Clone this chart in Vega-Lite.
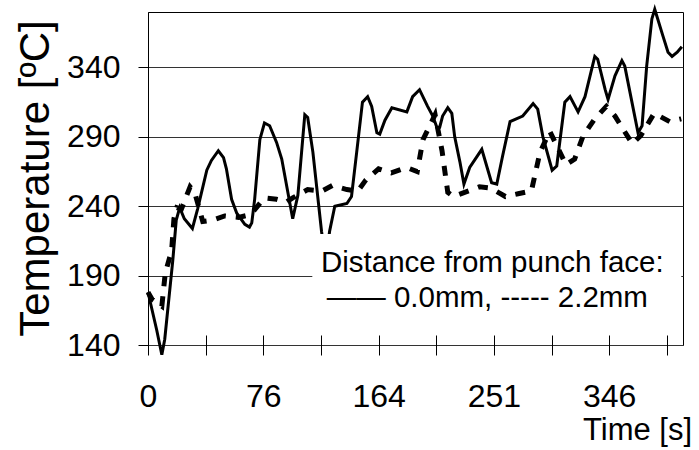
{
  "$schema": "https://vega.github.io/schema/vega-lite/v6.json",
  "width": 535,
  "height": 333,
  "autosize": {"type": "none"},
  "padding": {"left": 148, "top": 12, "right": 16, "bottom": 105},
  "background": "#ffffff",
  "config": {
    "view": {"stroke": "#000000", "strokeWidth": 1},
    "font": "Liberation Sans"
  },
  "datasets": {
    "temps": [
      {"t": 0.00, "temp": 178, "s": "0.0mm"},
      {"t": 0.15, "temp": 151, "s": "0.0mm"},
      {"t": 0.24, "temp": 133, "s": "0.0mm"},
      {"t": 0.29, "temp": 144, "s": "0.0mm"},
      {"t": 0.43, "temp": 201, "s": "0.0mm"},
      {"t": 0.49, "temp": 230, "s": "0.0mm"},
      {"t": 0.55, "temp": 239, "s": "0.0mm"},
      {"t": 0.63, "temp": 231, "s": "0.0mm"},
      {"t": 0.77, "temp": 224, "s": "0.0mm"},
      {"t": 0.86, "temp": 238, "s": "0.0mm"},
      {"t": 1.02, "temp": 266, "s": "0.0mm"},
      {"t": 1.10, "temp": 273, "s": "0.0mm"},
      {"t": 1.22, "temp": 280, "s": "0.0mm"},
      {"t": 1.31, "temp": 275, "s": "0.0mm"},
      {"t": 1.36, "temp": 267, "s": "0.0mm"},
      {"t": 1.45, "temp": 245, "s": "0.0mm"},
      {"t": 1.54, "temp": 235, "s": "0.0mm"},
      {"t": 1.68, "temp": 227, "s": "0.0mm"},
      {"t": 1.76, "temp": 225, "s": "0.0mm"},
      {"t": 1.80, "temp": 228, "s": "0.0mm"},
      {"t": 1.85, "temp": 245, "s": "0.0mm"},
      {"t": 1.94, "temp": 288, "s": "0.0mm"},
      {"t": 2.02, "temp": 300, "s": "0.0mm"},
      {"t": 2.11, "temp": 298, "s": "0.0mm"},
      {"t": 2.23, "temp": 286, "s": "0.0mm"},
      {"t": 2.32, "temp": 274, "s": "0.0mm"},
      {"t": 2.51, "temp": 231, "s": "0.0mm"},
      {"t": 2.60, "temp": 248, "s": "0.0mm"},
      {"t": 2.72, "temp": 306, "s": "0.0mm"},
      {"t": 2.77, "temp": 304, "s": "0.0mm"},
      {"t": 2.86, "temp": 279, "s": "0.0mm"},
      {"t": 3.01, "temp": 222, "s": "0.0mm"},
      {"t": 3.08, "temp": 200, "s": "0.0mm"},
      {"t": 3.15, "temp": 222, "s": "0.0mm"},
      {"t": 3.24, "temp": 240, "s": "0.0mm"},
      {"t": 3.45, "temp": 242, "s": "0.0mm"},
      {"t": 3.53, "temp": 247, "s": "0.0mm"},
      {"t": 3.62, "temp": 279, "s": "0.0mm"},
      {"t": 3.72, "temp": 315, "s": "0.0mm"},
      {"t": 3.81, "temp": 319, "s": "0.0mm"},
      {"t": 3.88, "temp": 312, "s": "0.0mm"},
      {"t": 3.97, "temp": 293, "s": "0.0mm"},
      {"t": 4.02, "temp": 292, "s": "0.0mm"},
      {"t": 4.11, "temp": 302, "s": "0.0mm"},
      {"t": 4.23, "temp": 311, "s": "0.0mm"},
      {"t": 4.49, "temp": 308, "s": "0.0mm"},
      {"t": 4.59, "temp": 319, "s": "0.0mm"},
      {"t": 4.71, "temp": 324, "s": "0.0mm"},
      {"t": 4.85, "temp": 312, "s": "0.0mm"},
      {"t": 4.94, "temp": 305, "s": "0.0mm"},
      {"t": 5.01, "temp": 297, "s": "0.0mm"},
      {"t": 5.06, "temp": 297, "s": "0.0mm"},
      {"t": 5.11, "temp": 305, "s": "0.0mm"},
      {"t": 5.20, "temp": 311, "s": "0.0mm"},
      {"t": 5.27, "temp": 307, "s": "0.0mm"},
      {"t": 5.32, "temp": 290, "s": "0.0mm"},
      {"t": 5.41, "temp": 272, "s": "0.0mm"},
      {"t": 5.48, "temp": 256, "s": "0.0mm"},
      {"t": 5.58, "temp": 268, "s": "0.0mm"},
      {"t": 5.79, "temp": 281, "s": "0.0mm"},
      {"t": 5.96, "temp": 257, "s": "0.0mm"},
      {"t": 6.05, "temp": 256, "s": "0.0mm"},
      {"t": 6.15, "temp": 276, "s": "0.0mm"},
      {"t": 6.28, "temp": 301, "s": "0.0mm"},
      {"t": 6.50, "temp": 305, "s": "0.0mm"},
      {"t": 6.68, "temp": 314, "s": "0.0mm"},
      {"t": 6.76, "temp": 310, "s": "0.0mm"},
      {"t": 6.85, "temp": 290, "s": "0.0mm"},
      {"t": 7.01, "temp": 266, "s": "0.0mm"},
      {"t": 7.09, "temp": 269, "s": "0.0mm"},
      {"t": 7.23, "temp": 315, "s": "0.0mm"},
      {"t": 7.32, "temp": 319, "s": "0.0mm"},
      {"t": 7.46, "temp": 308, "s": "0.0mm"},
      {"t": 7.58, "temp": 319, "s": "0.0mm"},
      {"t": 7.75, "temp": 348, "s": "0.0mm"},
      {"t": 7.80, "temp": 346, "s": "0.0mm"},
      {"t": 7.93, "temp": 324, "s": "0.0mm"},
      {"t": 7.98, "temp": 317, "s": "0.0mm"},
      {"t": 8.10, "temp": 334, "s": "0.0mm"},
      {"t": 8.22, "temp": 345, "s": "0.0mm"},
      {"t": 8.27, "temp": 341, "s": "0.0mm"},
      {"t": 8.50, "temp": 293, "s": "0.0mm"},
      {"t": 8.57, "temp": 298, "s": "0.0mm"},
      {"t": 8.65, "temp": 341, "s": "0.0mm"},
      {"t": 8.74, "temp": 375, "s": "0.0mm"},
      {"t": 8.79, "temp": 382, "s": "0.0mm"},
      {"t": 8.93, "temp": 363, "s": "0.0mm"},
      {"t": 9.02, "temp": 351, "s": "0.0mm"},
      {"t": 9.09, "temp": 348, "s": "0.0mm"},
      {"t": 9.18, "temp": 351, "s": "0.0mm"},
      {"t": 9.26, "temp": 355, "s": "0.0mm"},
      {"t": 0.00, "temp": 178, "s": "2.2mm"},
      {"t": 0.07, "temp": 173, "s": "2.2mm"},
      {"t": 0.24, "temp": 168, "s": "2.2mm"},
      {"t": 0.30, "temp": 192, "s": "2.2mm"},
      {"t": 0.41, "temp": 208, "s": "2.2mm"},
      {"t": 0.45, "temp": 231, "s": "2.2mm"},
      {"t": 0.50, "temp": 239, "s": "2.2mm"},
      {"t": 0.58, "temp": 238, "s": "2.2mm"},
      {"t": 0.73, "temp": 254, "s": "2.2mm"},
      {"t": 0.81, "temp": 250, "s": "2.2mm"},
      {"t": 0.95, "temp": 229, "s": "2.2mm"},
      {"t": 1.12, "temp": 230, "s": "2.2mm"},
      {"t": 1.33, "temp": 233, "s": "2.2mm"},
      {"t": 1.57, "temp": 232, "s": "2.2mm"},
      {"t": 1.78, "temp": 234, "s": "2.2mm"},
      {"t": 2.02, "temp": 246, "s": "2.2mm"},
      {"t": 2.23, "temp": 245, "s": "2.2mm"},
      {"t": 2.40, "temp": 243, "s": "2.2mm"},
      {"t": 2.51, "temp": 246, "s": "2.2mm"},
      {"t": 2.77, "temp": 252, "s": "2.2mm"},
      {"t": 3.02, "temp": 251, "s": "2.2mm"},
      {"t": 3.20, "temp": 255, "s": "2.2mm"},
      {"t": 3.45, "temp": 252, "s": "2.2mm"},
      {"t": 3.64, "temp": 251, "s": "2.2mm"},
      {"t": 3.78, "temp": 259, "s": "2.2mm"},
      {"t": 4.00, "temp": 267, "s": "2.2mm"},
      {"t": 4.22, "temp": 264, "s": "2.2mm"},
      {"t": 4.48, "temp": 268, "s": "2.2mm"},
      {"t": 4.67, "temp": 265, "s": "2.2mm"},
      {"t": 4.77, "temp": 288, "s": "2.2mm"},
      {"t": 4.98, "temp": 306, "s": "2.2mm"},
      {"t": 5.10, "temp": 280, "s": "2.2mm"},
      {"t": 5.20, "temp": 250, "s": "2.2mm"},
      {"t": 5.30, "temp": 247, "s": "2.2mm"},
      {"t": 5.75, "temp": 254, "s": "2.2mm"},
      {"t": 5.95, "temp": 253, "s": "2.2mm"},
      {"t": 6.20, "temp": 247, "s": "2.2mm"},
      {"t": 6.42, "temp": 249, "s": "2.2mm"},
      {"t": 6.65, "temp": 251, "s": "2.2mm"},
      {"t": 6.80, "temp": 279, "s": "2.2mm"},
      {"t": 6.97, "temp": 294, "s": "2.2mm"},
      {"t": 7.25, "temp": 270, "s": "2.2mm"},
      {"t": 7.40, "temp": 274, "s": "2.2mm"},
      {"t": 7.55, "temp": 291, "s": "2.2mm"},
      {"t": 7.75, "temp": 303, "s": "2.2mm"},
      {"t": 7.95, "temp": 312, "s": "2.2mm"},
      {"t": 8.10, "temp": 305, "s": "2.2mm"},
      {"t": 8.40, "temp": 285, "s": "2.2mm"},
      {"t": 8.55, "temp": 291, "s": "2.2mm"},
      {"t": 8.78, "temp": 307, "s": "2.2mm"},
      {"t": 9.05, "temp": 301, "s": "2.2mm"},
      {"t": 9.25, "temp": 303, "s": "2.2mm"}
    ]
  },
  "layer": [
    {
      "data": {"name": "temps"},
      "transform": [{"filter": "datum.s == '0.0mm'"}],
      "mark": {"type": "line", "color": "#000000", "strokeWidth": 3, "clip": false},
      "encoding": {
        "x": {
          "field": "t",
          "type": "quantitative",
          "scale": {"domain": [0, 9.28], "nice": false, "zero": false},
          "axis": {
            "values": [0, 1, 2, 3, 4, 5, 6, 7, 8, 9],
            "labelExpr": "datum.value == 0 ? '0' : datum.value == 2 ? '76' : datum.value == 4 ? '164' : datum.value == 6 ? '251' : datum.value == 8 ? '346' : ''",
            "labelOverlap": false,
            "labelFlush": false,
            "labelFont": "Liberation Sans",
            "labelFontSize": 32,
            "labelColor": "#000000",
            "labelPadding": 26,
            "domain": false,
            "offset": -10,
            "tickSize": 20,
            "tickColor": "#000000",
            "tickWidth": 1,
            "grid": false,
            "zindex": 1,
            "title": "Time [s]",
            "titleFont": "Liberation Sans",
            "titleFontSize": 31,
            "titleFontWeight": "normal",
            "titleColor": "#000000",
            "titleX": 489,
            "titleY": 95,
            "titleAlign": "center",
            "titleBaseline": "middle"
          }
        },
        "y": {
          "field": "temp",
          "type": "quantitative",
          "scale": {"domain": [140, 380], "nice": false, "zero": false},
          "axis": {
            "values": [140, 190, 240, 290, 340],
            "labelFont": "Liberation Sans",
            "labelFontSize": 32,
            "labelColor": "#000000",
            "labelPadding": 18,
            "tickSize": 10,
            "tickColor": "#000000",
            "domainColor": "#000000",
            "grid": true,
            "gridColor": "#333333",
            "gridWidth": 1,
            "title": "Temperature [ºC]",
            "titleFont": "Liberation Sans",
            "titleFontSize": 42,
            "titleFontWeight": "normal",
            "titleColor": "#000000",
            "titleX": -113,
            "titleY": 166,
            "titleAngle": -90,
            "titleAlign": "center",
            "titleBaseline": "middle"
          }
        }
      }
    },
    {
      "data": {"name": "temps"},
      "transform": [{"filter": "datum.s == '2.2mm'"}],
      "mark": {"type": "line", "color": "#000000", "strokeWidth": 5, "strokeDash": [10, 10], "strokeCap": "butt", "clip": false},
      "encoding": {
        "x": {"field": "t", "type": "quantitative"},
        "y": {"field": "temp", "type": "quantitative"}
      }
    },
    {
      "data": {"values": [{}]},
      "mark": {"type": "rect", "color": "#ffffff"},
      "encoding": {
        "x": {"datum": 2.85, "type": "quantitative"},
        "x2": {"datum": 9.25},
        "y": {"datum": 141, "type": "quantitative"},
        "y2": {"datum": 220}
      }
    },
    {
      "data": {"values": [{}]},
      "mark": {"type": "text", "align": "left", "baseline": "middle", "font": "Liberation Sans", "fontSize": 29.5, "color": "#000000"},
      "encoding": {
        "x": {"datum": 3.0, "type": "quantitative"},
        "y": {"datum": 199, "type": "quantitative"},
        "text": {"value": "Distance from punch face:"}
      }
    },
    {
      "data": {"values": [{}]},
      "mark": {"type": "text", "align": "left", "baseline": "middle", "font": "Liberation Sans", "fontSize": 29.5, "color": "#000000"},
      "encoding": {
        "x": {"datum": 3.10, "type": "quantitative"},
        "y": {"datum": 174, "type": "quantitative"},
        "text": {"value": "—— 0.0mm, ----- 2.2mm"}
      }
    }
  ]
}
